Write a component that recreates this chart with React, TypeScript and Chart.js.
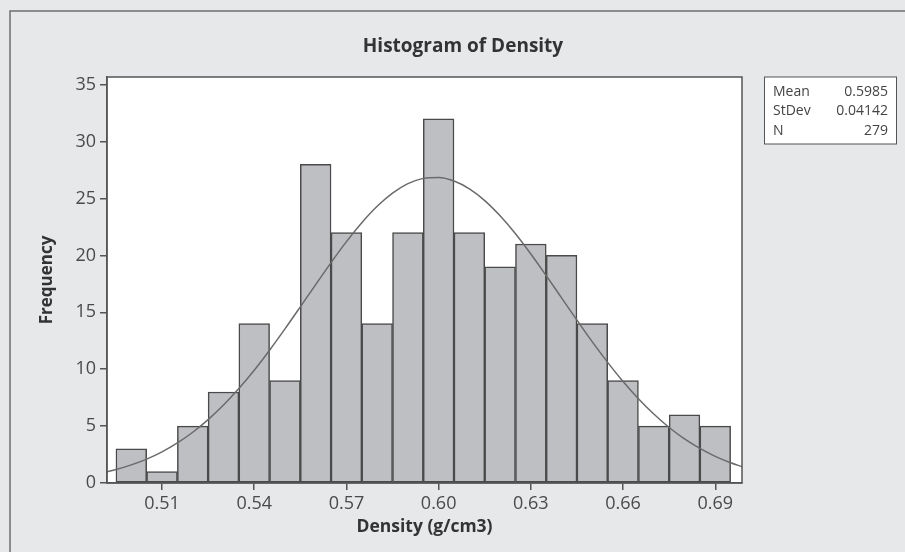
import React, { useEffect, useRef } from "react";
import { Chart, registerables } from "chart.js";

Chart.register(...registerables);

// Histogram bins (centers) and counts
const binCenters = [0.50, 0.51, 0.52, 0.53, 0.54, 0.55, 0.56, 0.57, 0.58, 0.59, 0.60, 0.61, 0.62, 0.63, 0.64, 0.65, 0.66, 0.67, 0.68, 0.69];
const frequencies = [3, 1, 5, 8, 14, 9, 28, 22, 14, 22, 32, 22, 19, 21, 20, 14, 9, 5, 6, 5];

// Fitted normal curve, read along its path
const curveX = [0.4921, 0.495, 0.500, 0.505, 0.510, 0.515, 0.520, 0.525, 0.530, 0.535, 0.540, 0.545, 0.550, 0.555, 0.560, 0.565, 0.570, 0.575, 0.580, 0.585, 0.590, 0.595, 0.600, 0.605, 0.610, 0.615, 0.620, 0.625, 0.630, 0.635, 0.640, 0.645, 0.650, 0.655, 0.660, 0.665, 0.670, 0.675, 0.680, 0.685, 0.690, 0.695, 0.6987];
const curveY = [0.99, 1.18, 1.59, 2.10, 2.74, 3.52, 4.46, 5.57, 6.85, 8.30, 9.91, 11.67, 13.54, 15.48, 17.44, 19.37, 21.21, 22.88, 24.32, 25.48, 26.31, 26.77, 26.85, 26.54, 25.85, 24.82, 23.48, 21.90, 20.12, 18.22, 16.27, 14.31, 12.40, 10.60, 8.92, 7.41, 6.06, 4.88, 3.88, 3.04, 2.34, 1.78, 1.44];

const xTicks = [0.51, 0.54, 0.57, 0.60, 0.63, 0.66, 0.69];
const yTicks = [0, 5, 10, 15, 20, 25, 30, 35];

const statLabels = ["Mean", "StDev", "N"];
const statValues = ["0.5985", "0.04142", "279"];

const chartTitle = "Histogram of Density";
const xTitle = "Density (g/cm3)";
const yTitle = "Frequency";

const FONT = "'Open Sans', sans-serif";

export default function App() {
  const ref = useRef<HTMLCanvasElement | null>(null);

  useEffect(() => {
    const canvas = ref.current;
    if (!canvas) return;

    const decor = {
      id: "decor",
      beforeDraw(chart: any) {
        const { ctx, chartArea: a } = chart;
        ctx.save();
        ctx.fillStyle = "#e7e8ea";
        ctx.fillRect(0, 0, chart.width, chart.height);
        ctx.fillStyle = "#ffffff";
        ctx.fillRect(a.left, a.top, a.right - a.left, a.bottom - a.top);
        // outer frame (left + top)
        ctx.strokeStyle = "#6e6e6e";
        ctx.lineWidth = 1.5;
        ctx.beginPath();
        ctx.moveTo(10, chart.height);
        ctx.lineTo(10, 11);
        ctx.lineTo(chart.width, 11);
        ctx.stroke();
        ctx.restore();
      },
      afterDraw(chart: any) {
        const { ctx, chartArea: a } = chart;
        ctx.save();
        ctx.strokeStyle = "#555";
        ctx.lineWidth = 1.5;
        ctx.strokeRect(a.left, a.top, a.right - a.left, a.bottom - a.top);
        // title
        ctx.fillStyle = "#333";
        ctx.font = `bold 19px ${FONT}`;
        ctx.textAlign = "center";
        ctx.textBaseline = "middle";
        ctx.fillText(chartTitle, 463, 47);
        // stats box
        const bx = 764.5, by = 77, bw = 132, bh = 67;
        ctx.fillStyle = "#fff";
        ctx.fillRect(bx, by, bw, bh);
        ctx.strokeStyle = "#555";
        ctx.lineWidth = 1;
        ctx.strokeRect(bx, by, bw, bh);
        ctx.fillStyle = "#444";
        ctx.font = `14px ${FONT}`;
        statLabels.forEach((lab, i) => {
          const y = 92 + i * 19.5;
          ctx.textAlign = "left";
          ctx.fillText(lab, 773, y);
          ctx.textAlign = "right";
          ctx.fillText(statValues[i], 888, y);
        });
        ctx.restore();
      },
    };

    const chart = new Chart(canvas, {
      type: "bar",
      data: {
        datasets: [
          {
            type: "line",
            data: curveX.map((x, i) => ({ x, y: curveY[i] })),
            borderColor: "#6a6a6a",
            borderWidth: 1.5,
            pointRadius: 0,
            cubicInterpolationMode: "monotone",
            order: 0,
          } as any,
          {
            type: "bar",
            data: binCenters.map((x, i) => ({ x, y: frequencies[i] })),
            backgroundColor: "#bebfc3",
            borderColor: "#4a4a4a",
            borderWidth: 1.5,
            borderSkipped: false,
            barPercentage: 1,
            categoryPercentage: 1,
            order: 1,
          } as any,
        ],
      },
      options: {
        responsive: false,
        animation: false,
        devicePixelRatio: 1,
        layout: { padding: { left: 0, top: 77, right: 163, bottom: 0 } },
        plugins: { legend: { display: false }, tooltip: { enabled: false }, title: { display: false } },
        scales: {
          x: {
            type: "linear",
            offset: false,
            min: 0.4921,
            max: 0.6987,
            afterBuildTicks: (s: any) => { s.ticks = xTicks.map((v) => ({ value: v })); },
            afterFit: (s: any) => { s.height = 69; },
            grid: { offset: false, drawOnChartArea: false, drawTicks: true, tickLength: 7, tickColor: "#555", lineWidth: 1.5 },
            border: { display: true, color: "#555", width: 1.5 },
            ticks: {
              padding: 3,
              color: "#4a4a4a",
              font: { family: FONT, size: 18 },
              maxRotation: 0,
              autoSkip: false,
              callback: (v: any) => Number(v).toFixed(2),
            },
            title: {
              display: true,
              text: xTitle,
              color: "#333",
              font: { family: FONT, size: 17.5, weight: "bold" },
              padding: { top: 0, bottom: 14 },
            },
          },
          y: {
            min: 0,
            max: 35.68,
            afterBuildTicks: (s: any) => { s.ticks = yTicks.map((v) => ({ value: v })); },
            afterFit: (s: any) => { s.width = 107; },
            grid: { drawOnChartArea: false, drawTicks: true, tickLength: 7, tickColor: "#555", lineWidth: 1.5 },
            border: { display: true, color: "#555", width: 1.5 },
            ticks: {
              padding: 4,
              color: "#4a4a4a",
              font: { family: FONT, size: 18 },
              autoSkip: false,
            },
            title: {
              display: true,
              text: yTitle,
              color: "#333",
              font: { family: FONT, size: 17, weight: "bold" },
              padding: { top: 37, bottom: 0 },
            },
          },
        },
      } as any,
      plugins: [decor],
    });

    return () => chart.destroy();
  }, []);

  return (
    <div style={{ position: "absolute", left: 0, top: 0, width: 905, height: 552 }}>
      <canvas ref={ref} width={905} height={552} />
    </div>
  );
}
